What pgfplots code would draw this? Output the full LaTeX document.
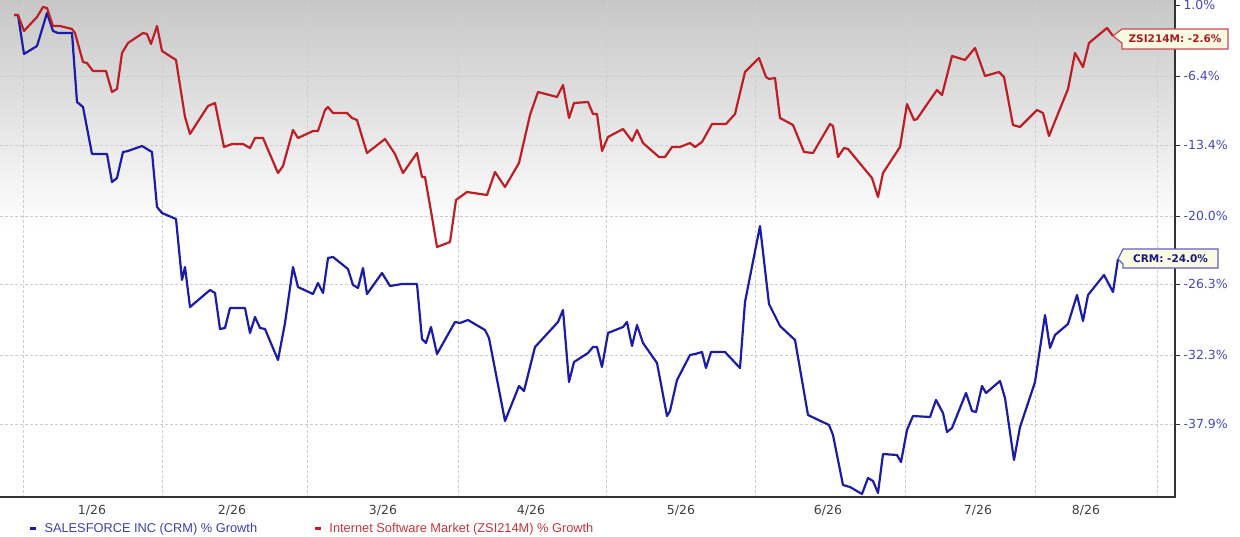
\documentclass[border=0pt]{standalone}
\usepackage{pgfplots}
\pgfplotsset{compat=1.18}
\usepackage{fontspec}
\setmainfont{DejaVu Sans}
\newfontfamily\legfont{Liberation Sans}
\definecolor{redline}{RGB}{190,30,38}
\definecolor{blueline}{RGB}{28,28,165}
\definecolor{ticklab}{RGB}{72,72,185}
\definecolor{gridc}{RGB}{205,205,205}
\definecolor{callfill}{RGB}{250,250,226}
\pgfdeclareverticalshading{chartbg}{100bp}{color(0bp)=(white); color(52bp)=(white); color(75bp)=(black!22); color(100bp)=(black!22)}
\begin{document}
\begin{tikzpicture}
\path[use as bounding box] (0,0) rectangle (1240pt,-537pt);
\begin{axis}[
  at={(0pt,0pt)}, anchor=north west,
  scale only axis, width=1175pt, height=497pt,
  xmin=0, xmax=1175, ymin=0, ymax=497, y dir=reverse,
  clip=false,
  axis line style={draw=none},
  axis background/.style={shade, shading=chartbg},
  xtick={92,232,383,531,681,828,978,1086},
  xticklabels={1/26,2/26,3/26,4/26,5/26,6/26,7/26,8/26},
  x tick style={draw=none},
  xticklabel style={text=black!75, font=\fontsize{12.5}{14}\selectfont},
  extra x ticks={23,162,307,458,606,755,905,1035,1157},
  extra x tick labels={},
  extra x tick style={grid=major, tick style={draw=none}},
  ytick={5,76,145,216,284,355,424},
  yticklabels={1.0\%,-6.4\%,-13.4\%,-20.0\%,-26.3\%,-32.3\%,-37.9\%},
  ytick pos=right, yticklabel pos=right,
  y tick style={black!80, line width=1pt},
  yticklabel style={text=ticklab, font=\fontsize{12.5}{14}\selectfont},
  tick align=outside, major tick length=5pt,
  ymajorgrids,
  grid style={gridc, dash pattern=on 3pt off 2pt, line width=0.8pt},
  legend style={at={(axis cs:26,519)}, anchor=north west, draw=none, fill=none,
    legend columns=2, font=\legfont\fontsize{12.8}{14}\selectfont,
    /tikz/every even column/.append style={column sep=55pt}},
  legend cell align=left,
  legend image code/.code={\draw[#1, line width=2.4pt] (0pt,0pt) -- (6pt,0pt); \path (11pt,0pt);},
]
\addplot[blueline, line width=2.2pt, line join=round] coordinates {
(14,15) (18,15) (24,54) (37,46) (47,13) (53,31) (58,33) (72,33) (77,102) (83,107)
(92,154) (107,154) (112,182) (117,178) (123,152) (128,151) (142,146) (152,152) (157,207) (162,213)
(176,219) (182,280) (185,267) (190,307) (210,290) (215,293) (220,329) (225,328) (230,308) (245,308)
(250,333) (255,317) (260,328) (265,329) (278,360) (285,323) (293,267) (298,287) (313,294) (318,283)
(323,293) (328,258) (333,257) (348,269) (353,285) (358,288) (363,268) (367,294) (382,273) (390,286)
(402,284) (417,284) (422,339) (426,343) (431,327) (437,354) (455,322) (460,323) (468,320) (485,330)
(489,338) (505,421) (519,386) (524,391) (535,347) (558,322) (563,310) (569,382) (574,362) (588,353)
(593,347) (597,347) (602,367) (608,333) (623,327) (627,322) (632,346) (637,325) (643,343) (657,363)
(667,416) (670,411) (677,380) (690,355) (695,354) (702,352) (706,368) (711,352) (725,352) (740,368)
(745,302) (760,226) (769,304) (780,326) (795,340) (808,415) (829,425) (833,435) (843,485) (850,487)
(862,494) (868,478) (873,481) (878,493) (883,454) (897,455) (901,462) (907,430) (913,416) (930,417)
(936,400) (943,413) (947,432) (952,428) (966,393) (972,411) (976,412) (982,386) (986,393) (1000,381)
(1005,398) (1014,460) (1020,427) (1035,382) (1045,315) (1050,348) (1055,335) (1068,324) (1077,295) (1083,321)
(1088,295) (1104,275) (1113,292) (1118,259)
};
\addlegendentry{\textcolor{blueline!85}{SALESFORCE INC (CRM) \% Growth}}
\addplot[redline, line width=2.2pt, line join=round] coordinates {
(14,15) (18,15) (24,31) (37,17) (43,7) (47,8) (53,26) (60,26) (72,29) (75,33)
(83,62) (87,63) (93,71) (106,71) (112,92) (117,89) (122,53) (128,43) (143,33) (147,34)
(151,44) (157,26) (162,51) (176,60) (185,117) (190,134) (197,123) (208,106) (215,103) (224,147)
(232,144) (243,144) (250,148) (255,138) (263,138) (278,173) (283,166) (293,130) (298,138) (313,131)
(318,131) (325,110) (328,107) (333,113) (347,113) (352,118) (357,120) (367,153) (385,139) (395,154)
(403,173) (417,153) (422,177) (425,177) (432,217) (437,247) (450,242) (456,200) (467,192) (487,195)
(495,172) (505,187) (519,163) (530,115) (538,92) (557,97) (563,85) (569,118) (574,103) (588,102)
(593,114) (597,114) (602,151) (608,137) (623,129) (632,141) (637,130) (643,143) (659,157) (665,157)
(672,147) (680,147) (690,143) (695,147) (702,142) (712,124) (726,124) (735,114) (745,72) (759,58)
(766,77) (769,79) (775,78) (780,118) (793,125) (804,152) (813,153) (830,124) (833,126) (838,157)
(844,148) (848,149) (872,178) (878,197) (883,173) (900,147) (907,104) (914,120) (917,119) (930,100)
(937,90) (942,95) (952,56) (965,60) (975,48) (985,76) (999,72) (1004,77) (1013,125) (1020,127)
(1037,110) (1043,113) (1049,136) (1068,89) (1075,53) (1083,67) (1089,43) (1107,28) (1113,36)
};
\addlegendentry{\textcolor{redline!90}{Internet Software Market (ZSI214M) \% Growth}}
\draw[black!80, line width=2.5pt] (axis cs:0,497) -- (axis cs:1175,497) -- (axis cs:1175,0);
\draw[redline!80, line width=1.2pt, fill=callfill] (axis cs:1113,36) -- (axis cs:1122,29) -- (axis cs:1228,29) -- (axis cs:1228,49) -- (axis cs:1122,49) -- (axis cs:1122,43) -- cycle;
\node[text=redline!90!black, font=\bfseries\fontsize{10.5}{12}\selectfont] at (axis cs:1175,39) {ZSI214M: -2.6\%};
\draw[blueline!70, line width=1.2pt, fill=callfill] (axis cs:1118,259) -- (axis cs:1123,249) -- (axis cs:1218,249) -- (axis cs:1218,268) -- (axis cs:1123,268) -- (axis cs:1123,264) -- cycle;
\node[text=blueline!80!black, font=\bfseries\fontsize{10.5}{12}\selectfont] at (axis cs:1170.5,258.5) {CRM: -24.0\%};
\end{axis}
\end{tikzpicture}
\end{document}
